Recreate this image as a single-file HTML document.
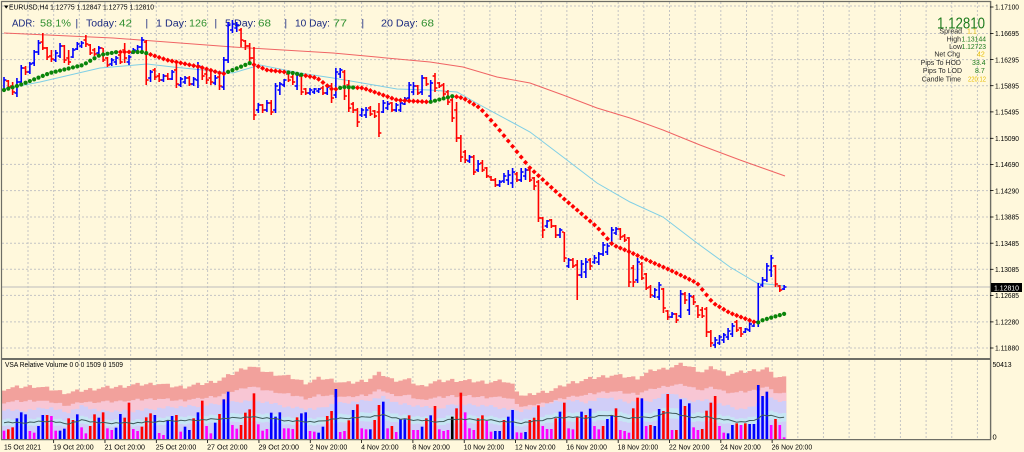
<!DOCTYPE html>
<html><head><meta charset="utf-8"><style>
html,body{margin:0;padding:0;background:#FFF8DC;}
svg{display:block;}
text{font-family:"Liberation Sans",sans-serif;}
</style></head><body>
<svg id="s" width="1024" height="452" viewBox="0 0 1024 452" xmlns="http://www.w3.org/2000/svg">
<rect x="0" y="0" width="1024" height="452" fill="#FFF8DC"/>
<g id="grid"></g>
<g id="vol"></g>
<line x1="2" y1="287" x2="990" y2="287" stroke="#BDBDBD" stroke-width="1"/>
<!-- header texts -->
<polygon points="4,5.5 8.5,5.5 6.2,8.6" fill="#000"/>
<text x="9" y="9.6" font-size="7" textLength="145" lengthAdjust="spacingAndGlyphs" fill="#000">EURUSD,H4  1.12775 1.12847 1.12775 1.12810</text>
<g font-size="10">
<text x="12" y="26.3" textLength="23" lengthAdjust="spacingAndGlyphs" fill="#1B2A80">ADR:</text>
<text x="40" y="26.3" textLength="31" lengthAdjust="spacingAndGlyphs" fill="#2F8F2F">58.1%</text>
<text x="75.5" y="26.3" fill="#1B2A80">|</text>
<text x="86" y="26.3" textLength="31" lengthAdjust="spacingAndGlyphs" fill="#1B2A80">Today:</text>
<text x="119" y="26.3" textLength="13" lengthAdjust="spacingAndGlyphs" fill="#2F8F2F">42</text>
<text x="145.5" y="26.3" fill="#1B2A80">|</text>
<text x="156" y="26.3" textLength="31" lengthAdjust="spacingAndGlyphs" fill="#1B2A80">1 Day:</text>
<text x="189" y="26.3" textLength="18" lengthAdjust="spacingAndGlyphs" fill="#2F8F2F">126</text>
<text x="214.5" y="26.3" fill="#1B2A80">|</text>
<text x="225" y="26.3" textLength="31" lengthAdjust="spacingAndGlyphs" fill="#1B2A80">5 Day:</text>
<text x="258" y="26.3" textLength="13" lengthAdjust="spacingAndGlyphs" fill="#2F8F2F">68</text>
<text x="284.5" y="26.3" fill="#1B2A80">|</text>
<text x="295" y="26.3" textLength="35" lengthAdjust="spacingAndGlyphs" fill="#1B2A80">10 Day:</text>
<text x="333" y="26.3" textLength="14" lengthAdjust="spacingAndGlyphs" fill="#2F8F2F">77</text>
<text x="361.5" y="26.3" fill="#1B2A80">|</text>
<text x="381" y="26.3" textLength="37" lengthAdjust="spacingAndGlyphs" fill="#1B2A80">20 Day:</text>
<text x="421" y="26.3" textLength="13" lengthAdjust="spacingAndGlyphs" fill="#2F8F2F">68</text>
</g>
<g id="lines"></g>
<g id="bars"></g>
<g id="dots"></g>
<!-- info panel -->
<text x="937" y="28.3" font-size="16" textLength="48" lengthAdjust="spacingAndGlyphs" fill="#1E7B1E">1.12810</text>
<g font-size="7" fill="#2A2A2A" text-anchor="end">
<text x="962" y="33.3">Spread</text>
<text x="961" y="41.7">High</text>
<text x="962" y="49">Low</text>
<text x="960" y="56.7">Net Chg</text>
<text x="961" y="65">Pips To HOD</text>
<text x="962" y="73">Pips To LOD</text>
<text x="961" y="81.5">Candle Time</text>
</g>
<g font-size="7">
<text x="967" y="33.3" fill="#E8BE00">1.1</text>
<text x="961.5" y="41.7" textLength="24.5" lengthAdjust="spacingAndGlyphs" fill="#1E7B1E">1.13144</text>
<text x="961.5" y="49" textLength="24.5" lengthAdjust="spacingAndGlyphs" fill="#1E7B1E">1.12723</text>
<text x="977" y="56.7" fill="#E8BE00">42</text>
<text x="972" y="65" fill="#1E7B1E">33.4</text>
<text x="975" y="73" fill="#1E7B1E">8.7</text>
<text x="968" y="81.5" textLength="18" lengthAdjust="spacingAndGlyphs" fill="#E8BE00">220:12</text>
</g>
<!-- frame -->
<g stroke="#6E6E66" fill="none">
<line x1="1.5" y1="1" x2="1.5" y2="440" stroke-width="1.2"/>
<line x1="1" y1="1.5" x2="991" y2="1.5" stroke-width="1.2"/>
<line x1="990.6" y1="1" x2="990.6" y2="440" stroke-width="1.4"/>
<line x1="1" y1="359" x2="991" y2="359" stroke-width="2"/>
<line x1="1" y1="439.6" x2="991" y2="439.6" stroke-width="1.2"/>
</g>
<g id="axis" font-size="7.5" fill="#000"></g>
<rect x="991" y="283" width="31" height="9" fill="#000"/>
<text x="994" y="290.6" font-size="7.5" textLength="25" lengthAdjust="spacingAndGlyphs" fill="#fff">1.12810</text>
<text x="5" y="367" font-size="7" textLength="118" lengthAdjust="spacingAndGlyphs" fill="#000">VSA Relative Volume 0 0 0 1509 0 1509</text>
<text x="992.5" y="367" font-size="7.5" textLength="19" lengthAdjust="spacingAndGlyphs" fill="#000">50413</text>
<text x="992.5" y="439.5" font-size="7.5" fill="#000">0</text>
</svg>
<script>
(function(){
var NS='http://www.w3.org/2000/svg';
function X(i){return 4+4.31*i;}
function interp(p,x){if(x<=p[0][0])return p[0][1];for(var k=1;k<p.length;k++){if(x<=p[k][0]){var a=p[k-1],b=p[k];return a[1]+(b[1]-a[1])*(x-a[0])/(b[0]-a[0]);}}return p[p.length-1][1];}
function add(id,html){document.getElementById(id).innerHTML+=html;}
function f(v){return Math.round(v*100)/100;}

/* grid */
var g='';
var hy=[6,33.5,59.6,85.7,111.9,138.3,164.4,190.6,217,243.2,269.3,295.4,321.9,348];
hy.forEach(function(y){g+='<line x1="2" y1="'+y+'" x2="990" y2="'+y+'" stroke="#C4C4C4" stroke-width="1" stroke-dasharray="2,2"/>';});
for(var k=1;k<=38;k++){var gx=f(2.34+25.66*k);g+='<line x1="'+gx+'" y1="2" x2="'+gx+'" y2="358" stroke="#C4C4C4" stroke-width="1" stroke-dasharray="2,2"/>';g+='<line x1="'+gx+'" y1="360" x2="'+gx+'" y2="439" stroke="#C4C4C4" stroke-width="1" stroke-dasharray="2,2"/>';}
add('grid',g);

/* axis labels */
var pl=[['1.17100',7],['1.16695',33.5],['1.16295',59.6],['1.15895',85.7],['1.15495',111.9],['1.15090',138.3],['1.14690',164.4],['1.14290',190.6],['1.13885',217],['1.13485',243.2],['1.13085',269.3],['1.12685',295.4],['1.12280',321.9],['1.11880',348]];
var a='';
pl.forEach(function(p){a+='<line x1="990" y1="'+p[1]+'" x2="993.5" y2="'+p[1]+'" stroke="#000" stroke-width="0.8"/>';a+='<text x="995" y="'+f(p[1]+2.7)+'" textLength="24" lengthAdjust="spacingAndGlyphs">'+p[0]+'</text>';});
var dl=['19 Oct 20:00','21 Oct 20:00','25 Oct 20:00','27 Oct 20:00','29 Oct 20:00','2 Nov 20:00','4 Nov 20:00','8 Nov 20:00','10 Nov 20:00','12 Nov 20:00','16 Nov 20:00','18 Nov 20:00','22 Nov 20:00','24 Nov 20:00','26 Nov 20:00'];
a+='<text x="4" y="449.3" font-size="7.4" textLength="37" lengthAdjust="spacingAndGlyphs">15 Oct 2021</text>';
dl.forEach(function(t,j){var x=f(2.34+25.66*2*(j+1));a+='<line x1="'+x+'" y1="440" x2="'+x+'" y2="443" stroke="#000" stroke-width="0.8"/>';a+='<text x="'+f(x-0.5)+'" y="449.3" font-size="7.4" textLength="'+(t.length>11?40.5:37.5)+'" lengthAdjust="spacingAndGlyphs">'+t+'</text>';});
add('axis',a);

/* volume */
var V=('m242 r238 r232 b205 b187 b193 m243 m248 b228 b195 r195 m198 m242 b242 b236 r205 r210 b193 m232 m250 r228 r193 b203 r187 m235 m240 b233 b192 r203 r158 m237 m243 r230 r202 r190 b195 m249 m255 b210 b198 r195 m245 b230 b240 r205 b187 r152 m228 m250 b218 r192 b148 b125 m225 m236 r225 r188 r178 r130 m223 m242 m237 b188 b200 b187 m235 m235 m237 r202 b190 b187 m243 m245 b248 b230 r198 r183 b117 m246 m243 r211 b180 r163 m235 m238 b238 r210 r165 b155 m235 r228 m246 b207 b208 r196 m240 m240 '+
'b230 r205 b196 r168 m238 m243 m240 k200 r175 r128 m187 m235 m240 r205 r196 m213 m245 b243 b243 r210 b200 b180 m247 m248 b246 r210 r203 r166 m228 m237 m237 r205 b185 r158 m235 m238 r202 b185 r195 b176 m228 m238 r228 b207 b195 r175 m240 m243 m248 r175 r143 b145 m228 r225 b228 b177 r183 r132 m240 r240 b148 r168 b160 m232 m240 r237 r182 r158 r138 m228 m248 b250 b225 r220 m225 r220 b222 b222 b105 b138 b125 m225 r207 m225 m262').split(' ');
var n=V.length;
var T=[[3,389],[20,387],[35,386],[50,389],[67,393],[85,390],[100,388],[115,387],[133,385],[150,384],[157,383],[170,386],[183,387],[195,385],[207,383],[220,380],[230,375],[240,370],[250,366],[258,369],[267,372],[280,375],[290,377],[307,383],[320,378],[333,380],[345,383],[350,383],[367,380],[380,373],[393,380],[410,380],[420,387],[433,382],[453,380],[470,381],[487,382],[505,381],[513,385],[523,397],[537,393],[553,390],[570,383],[593,378],[613,375],[637,378],[653,370],[663,369],[683,364],[703,372],[713,367],[727,374],[743,372],[757,370],[767,368],[773,376],[787,378]];
var L=[[3,422],[20,423],[50,421],[67,424],[83,420],[100,423],[133,423],[167,421],[200,420],[233,418],[250,417],[267,418],[290,421],[317,422],[333,419],[367,417],[383,415],[400,419],[417,420],[440,422],[453,419],[487,420],[520,423],[537,421],[553,418],[570,417],[587,418],[607,415],[627,418],[653,417],[670,412],[687,417],[707,417],[720,419],[740,422],[753,421],[763,415],[787,418]];
var TH=[],LH=[];
for(var i=0;i<n;i++){var x=X(i);var jt=((i*37)%7-3)*0.6;var jl=((i*53)%5-2)*0.35;TH.push(439-interp(T,x)+jt);LH.push(439-interp(L,x)+jl);}
function stepTop(h){var d='';for(var i=0;i<n;i++){var x0=f(X(i)-2.155),x1=f(X(i)+2.155),y=f(439-h[i]);d+=(i==0?'M':'L')+x0+','+y+'L'+x1+','+y;}return d;}
function stepBot(h){var d='';for(var i=n-1;i>=0;i--){var x0=f(X(i)-2.155),x1=f(X(i)+2.155),y=f(439-h[i]);d+='L'+x1+','+y+'L'+x0+','+y;}return d;}
var base=[];for(var i=0;i<n;i++)base.push(0);
var PH=[],LAV=[],CT=[],CB=[];
for(var i=0;i<n;i++){PH.push(LH[i]+(TH[i]-LH[i])*0.6);LAV.push(LH[i]*1.75);CT.push(LH[i]*1.2);CB.push(LH[i]*0.8);}
var v='';
v+='<path d="'+stepTop(TH)+stepBot(base)+'Z" fill="#F2A19C"/>';
v+='<path d="'+stepTop(PH)+stepBot(base)+'Z" fill="#F8C6D4"/>';
v+='<path d="'+stepTop(LAV)+stepBot(base)+'Z" fill="#D0CEF8"/>';
v+='<path d="'+stepTop(CT)+stepBot(CB)+'Z" fill="#C6E6F4"/>';
var cm={m:'#FF00FF',r:'#FF0000',b:'#0000FF',k:'#000000'};
for(var i=0;i<n;i++){var c=V[i][0],Y=parseFloat(V[i].slice(1));var top=350+Y/3;if(top>438)top=438;v+='<rect x="'+f(X(i)-1.3)+'" y="'+f(top)+'" width="2.6" height="'+f(439-top)+'" fill="'+cm[c]+'"/>';}
var lp='';for(var i=0;i<n;i++){lp+=f(X(i))+','+f(439-LH[i])+' ';}
v+='<polyline points="'+lp+'" fill="none" stroke="#3F5A5A" stroke-width="1"/>';
add('vol',v);

/* MA lines */
var R=[[4,33],[113,38],[233,47],[333,53],[430,62],[463,67],[497,77],[530,83],[563,95],[597,108],[630,118],[663,130],[700,145],[740,160],[785,176]];
var C=[[4,89],[40,82],[100,68],[147,64],[173,67],[233,73],[260,65],[300,73],[333,78],[397,89],[430,90],[457,92],[480,105],[530,132],[563,157],[597,183],[630,202],[663,217],[697,243],[730,267],[757,283],[785,286]];
function pts(p){return p.map(function(q){return q[0]+','+q[1];}).join(' ');}
add('lines','<polyline points="'+pts(R)+'" fill="none" stroke="#F06464" stroke-width="1"/><polyline points="'+pts(C)+'" fill="none" stroke="#7FCFE6" stroke-width="1"/>');

/* OHLC bars */
var B=[[77,92,90,80],[80,90,81,87],[82,95,86,92],[78,97,93,82],[65,84,82,68],[66,75,68,72],[62,74,72,64],[50,66,63,52],[40,55,52,43],[33,50,42,48],
[47,60,48,57],[50,62,56,59],[50,62,60,53],[43,58,56,46],[45,63,46,60],[50,65,58,62],[48,58,57,50],[42,50,49,44],[41,48,46,43],[35,47,40,44],
[44,55,45,53],[48,56,50,54],[46,55,53,48],[48,62,48,60],[57,67,58,65],[58,66,64,60],[56,65,62,58],[52,64,55,62],[43,63,50,58],[55,65,62,57],
[48,54,53,50],[45,53,51,47],[37,50,47,40],[40,85,42,80],[70,82,78,72],[68,80,70,77],[73,82,76,80],[74,82,80,76],[73,80,76,79],[70,80,79,72],
[62,88,70,84],[77,87,85,79],[76,84,82,78],[76,86,78,84],[77,86,84,79],[62,88,80,66],[66,80,67,76],[70,84,74,80],[72,85,78,82],[75,85,83,78],
[75,90,77,86],[57,90,87,60],[22,63,60,25],[20,33,30,24],[22,32,28,25],[28,47,30,40],[40,50,41,46],[43,63,46,58],[47,120,58,115],[103,113,110,105],
[104,113,105,110],[100,112,110,103],[100,115,103,112],[83,113,110,86],[82,95,90,84],[79,87,85,80],[72,82,74,80],[73,85,77,82],[72,90,86,75],[73,95,76,92],
[88,95,89,93],[88,95,93,90],[88,94,92,89],[88,93,91,89],[86,95,88,93],[84,95,93,87],[83,103,86,98],[68,98,95,72],[68,78,74,70],[70,100,72,96],
[80,112,85,108],[102,113,104,110],[108,127,110,122],[108,117,115,110],[107,118,115,110],[106,116,108,114],[110,118,111,116],[103,137,112,133],[100,113,112,103],[101,110,108,104],
[102,112,103,110],[103,112,110,105],[100,112,110,103],[97,105,104,99],[82,100,98,85],[82,95,92,86],[85,95,86,93],[75,95,92,78],[77,86,78,84],[80,100,96,83],
[73,92,76,88],[82,88,83,86],[83,97,85,94],[90,105,92,102],[98,122,100,118],[102,142,110,138],[135,162,138,157],[150,163,152,160],[155,163,161,157],[155,175,157,172],
[160,172,170,164],[160,172,163,170],[167,178,168,176],[176,181,177,180],[178,187,180,185],[180,187,185,182],[173,183,181,176],[170,185,180,175],[168,188,183,172],[172,182,174,180],
[168,182,180,172],[168,180,176,170],[168,182,170,180],[177,190,178,186],[180,222,182,218],[217,238,218,230],[220,228,226,221],[219,228,220,226],[225,238,226,235],[228,238,235,230],
[232,262,232,258],[258,268,266,260],[258,268,260,266],[260,300,265,275],[260,278,275,264],[258,278,272,262],[258,270,260,266],[255,264,262,258],[252,265,262,254],[242,256,254,245],
[243,255,252,246],[227,244,243,230],[227,235,233,229],[228,240,229,237],[234,242,236,240],[237,287,238,282],[265,287,268,282],[258,283,280,262],[262,280,264,278],[273,290,274,288],
[285,298,287,295],[288,298,296,290],[282,300,297,285],[288,313,289,308],[310,320,311,317],[312,318,317,314],[313,323,314,320],[290,318,316,294],[292,304,294,300],[293,315,310,296],
[295,305,297,302],[305,318,306,315],[307,318,310,316],[307,337,309,332],[330,347,332,343],[337,348,345,340],[335,345,343,337],[333,343,340,335],[328,340,337,331],[323,337,334,326],
[320,332,322,330],[327,337,328,334],[328,333,332,329],[322,332,330,324],[320,327,326,322],[283,327,322,287],[277,287,285,280],[263,282,280,266],[255,277,270,258],[265,287,266,284],
[285,292,286,290],[285,290,289,287]];
var s='';
B.forEach(function(b,i){var x=X(i);var up=b[3]<=b[2];var col=up?'#0000FF':'#FF0000';
s+='<rect x="'+f(x-0.8)+'" y="'+b[0]+'" width="1.6" height="'+(b[1]-b[0])+'" fill="'+col+'"/>';
s+='<rect x="'+f(x-2.4)+'" y="'+f(b[2]-0.8)+'" width="1.8" height="1.6" fill="'+col+'"/>';
s+='<rect x="'+f(x+0.6)+'" y="'+f(b[3]-0.8)+'" width="1.8" height="1.6" fill="'+col+'"/>';});
add('bars',s);

/* dotted MA */
var D=[[4,90],[20,85],[50,73],[83,65],[100,55],[117,52],[143,52],[167,60],[200,67],[223,74],[250,63],[267,70],[293,73],[317,78],[333,90],[343,87],[363,88],[397,100],[410,101],[430,102],[453,96],[463,98],[480,108],[497,127],[530,168],[563,198],[597,227],[613,245],[630,252],[647,260],[670,270],[697,283],[713,303],[730,313],[757,323],[763,320],[787,313]];
var G=[[0,120],[133,147],[225,252],[287,303],[336,355],[430,456],[757,800]];
var d='';
for(var i=0;i<B.length;i++){var x=X(i);var y=interp(D,x);var green=false;G.forEach(function(r){if(x>=r[0]&&x<=r[1])green=true;});
if(green){d+='<circle cx="'+f(x)+'" cy="'+f(y)+'" r="2.1" fill="#0A850A"/>';}
else{d+='<rect x="'+f(x-1.8)+'" y="'+f(y-1.8)+'" width="3.6" height="3.6" fill="#FF0000" transform="rotate(45 '+f(x)+' '+f(y)+')"/>';}}
add('dots',d);
})();
</script>
</body></html>
